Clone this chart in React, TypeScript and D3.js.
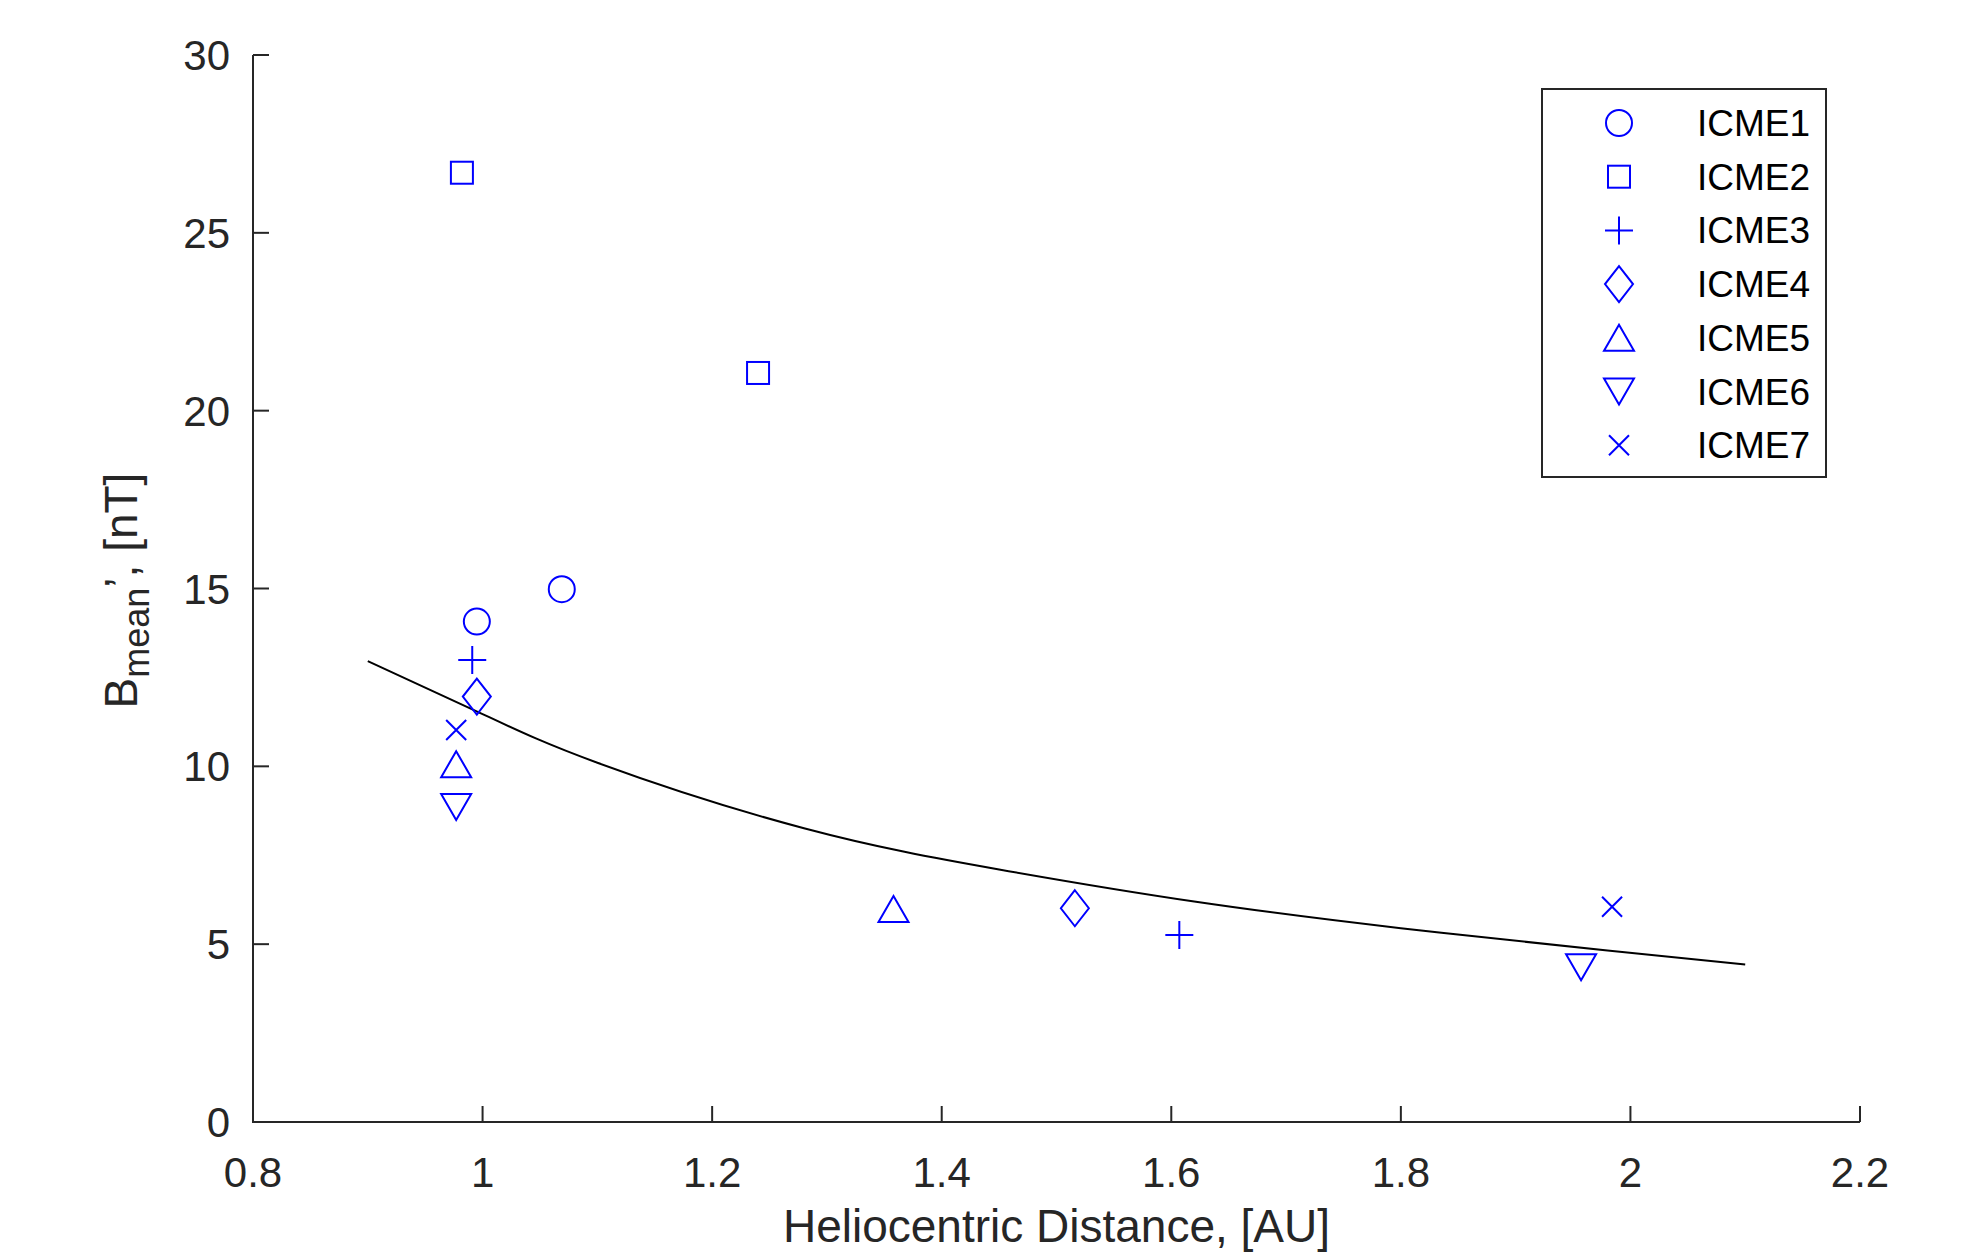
import React from 'react'
import * as d3 from 'd3'

// ICME events: [heliocentric distance AU, B mean nT]
const ICME1 = [[0.995, 14.07], [1.069, 14.98]]
const ICME2 = [[0.982, 26.69], [1.240, 21.06]]
const ICME3 = [[0.991, 12.99], [1.607, 5.26]]
const ICME4 = [[0.995, 11.96], [1.516, 6.01]]
const ICME5 = [[0.977, 10.06], [1.358, 5.99]]
const ICME6 = [[0.977, 8.86], [1.957, 4.35]]
const ICME7 = [[0.977, 11.02], [1.984, 6.05]]

// fit curve
const FIT = [
  [0.9, 12.96], [1.0, 11.47], [1.1, 10.1], [1.28, 8.26], [1.45, 7.1],
  [1.62, 6.2], [1.8, 5.45], [1.98, 4.82], [2.1, 4.43],
]

const NAMES = ['ICME1', 'ICME2', 'ICME3', 'ICME4', 'ICME5', 'ICME6', 'ICME7']
const MARKERS = ['o', 's', '+', 'd', '^', 'v', 'x']
const SERIES = [ICME1, ICME2, ICME3, ICME4, ICME5, ICME6, ICME7]

const X_TICKS = [0.8, 1, 1.2, 1.4, 1.6, 1.8, 2, 2.2]
const Y_TICKS = [0, 5, 10, 15, 20, 25, 30]

const W = 1969
const H = 1255
const M = { left: 253, right: 1860, top: 55, bottom: 1122 }
const BLUE = '#0000FF'
const AX = '#262626'
const FONT = '"Liberation Sans", Arial, Helvetica, sans-serif'

function Marker({ type, x, y }: { type: string; x: number; y: number }) {
  const p = { fill: 'none', stroke: BLUE, strokeWidth: 2 }
  switch (type) {
    case 'o':
      return <circle cx={x} cy={y} r={13} {...p} />
    case 's':
      return <rect x={x - 11} y={y - 11} width={22} height={22} {...p} />
    case '+':
      return <path d={`M${x - 14},${y}H${x + 14}M${x},${y - 14}V${y + 14}`} {...p} />
    case 'd':
      return <path d={`M${x},${y - 18}L${x + 14},${y}L${x},${y + 18}L${x - 14},${y}Z`} {...p} />
    case '^':
      return <path d={`M${x},${y - 13}L${x + 15},${y + 13}L${x - 15},${y + 13}Z`} {...p} />
    case 'v':
      return <path d={`M${x},${y + 13}L${x + 15},${y - 13}L${x - 15},${y - 13}Z`} {...p} />
    case 'x':
      return <path d={`M${x - 10},${y - 10}L${x + 10},${y + 10}M${x - 10},${y + 10}L${x + 10},${y - 10}`} {...p} />
    default:
      return null
  }
}

export default function App() {
  const x = d3.scaleLinear().domain([0.8, 2.2]).range([M.left, M.right])
  const y = d3.scaleLinear().domain([0, 30]).range([M.bottom, M.top])

  const line = d3.line<number[]>()
    .x(d => x(d[0]))
    .y(d => y(d[1]))
    .curve(d3.curveNatural)

  // legend
  const lg = { x: 1542, y: 89, w: 284, h: 388, row0: 123, step: 53.7 }

  return (
    <svg width={W} height={H} style={{ position: 'absolute', left: 0, top: 0, background: '#fff' }}
      fontFamily={FONT}>
      <rect width={W} height={H} fill="#fff" />

      {/* fit curve */}
      <path d={line(FIT) || ''} fill="none" stroke="#000" strokeWidth={2} />

      {/* points */}
      {SERIES.map((s, i) => s.map((d, j) => (
        <Marker key={`${i}-${j}`} type={MARKERS[i]} x={x(d[0])} y={y(d[1])} />
      )))}

      {/* axes */}
      <path d={`M${M.left},${M.top}V${M.bottom}H${M.right}`} fill="none" stroke={AX} strokeWidth={2} />
      {X_TICKS.map(t => (
        <g key={t}>
          <line x1={x(t)} x2={x(t)} y1={M.bottom} y2={M.bottom - 16} stroke={AX} strokeWidth={2} />
          <text x={x(t)} y={1187} textAnchor="middle" fontSize={42} fill={AX}>{t}</text>
        </g>
      ))}
      {Y_TICKS.map(t => (
        <g key={t}>
          <line x1={M.left} x2={M.left + 16} y1={y(t)} y2={y(t)} stroke={AX} strokeWidth={2} />
          <text x={230} y={y(t) + 15} textAnchor="end" fontSize={42} fill={AX}>{t}</text>
        </g>
      ))}

      {/* axis labels */}
      <text x={(M.left + M.right) / 2} y={1242} textAnchor="middle" fontSize={46} fill={AX}>
        Heliocentric Distance, [AU]
      </text>
      <text transform={`translate(137,${(M.top + M.bottom) / 2 + 2}) rotate(-90)`} textAnchor="middle"
        fontSize={46} fill={AX}>
        B<tspan fontSize={36} dy={12}>mean</tspan><tspan dy={-12}>{'\u2019, [nT]'}</tspan>
      </text>

      {/* legend */}
      <rect x={lg.x} y={lg.y} width={lg.w} height={lg.h} fill="#fff" stroke={AX} strokeWidth={2} />
      {NAMES.map((n, i) => {
        const cy = lg.row0 + i * lg.step
        return (
          <g key={n}>
            <Marker type={MARKERS[i]} x={1619} y={cy} />
            <text x={1697} y={cy + 13} fontSize={37} fill="#000">{n}</text>
          </g>
        )
      })}
    </svg>
  )
}
